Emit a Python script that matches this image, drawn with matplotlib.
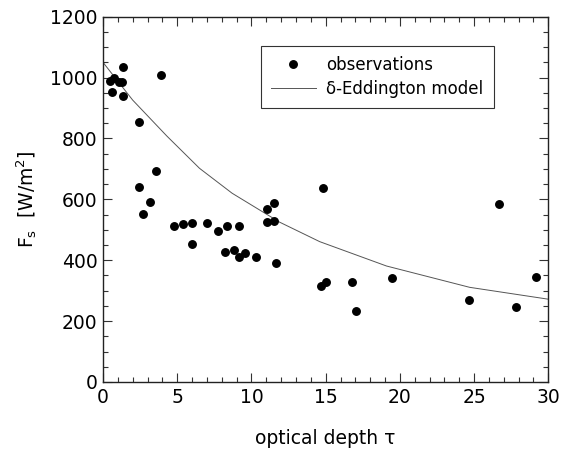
import matplotlib
matplotlib.use("Agg")
import matplotlib.pyplot as plt
from matplotlib.ticker import MultipleLocator

# observations
tau_obs = [0.47, 0.76, 1.08, 1.26, 0.58, 1.35, 1.35, 3.9, 2.4, 3.6, 2.4, 3.14, 2.69,
           4.77, 5.4, 6.0, 6.0, 7.0, 7.78, 8.36, 9.15, 8.2, 8.83, 9.15, 9.57, 10.3,
           11.07, 11.5, 11.07, 11.5, 11.68, 14.82, 14.66, 15.0, 16.77, 17.06, 19.48,
           24.68, 26.65, 27.82, 29.16]
fs_obs = [990, 997, 986, 986, 952, 1034, 939, 1009, 853, 694, 639, 592, 553,
          514, 520, 523, 453, 523, 497, 514, 514, 426, 432, 411, 424, 410,
          569, 588, 526, 528, 390, 636, 314, 329, 327, 234, 341,
          270, 585, 246, 344]

# delta-Eddington model
tau_model = [0, 2, 4.3, 6.5, 8.7, 11.9, 14.6, 19.1, 24.7, 30]
fs_model = [1050, 926, 808, 702, 620, 525, 461, 381, 311, 272]

plt.rcParams['font.family'] = ['DejaVu Sans']

fig = plt.figure(figsize=(5.61, 4.51), dpi=100)
ax = fig.add_axes([0.1836, 0.153, 0.7938, 0.81])

ax.plot(tau_model, fs_model, color='#555555', lw=0.7, label='δ-Eddington model', zorder=2)
ax.plot(tau_obs, fs_obs, 'o', color='black', markersize=5.4, linestyle='none',
        label='observations', zorder=3)

ax.set_xlim(0, 30)
ax.set_ylim(0, 1200)
ax.xaxis.set_major_locator(MultipleLocator(5))
ax.xaxis.set_minor_locator(MultipleLocator(1))
ax.yaxis.set_major_locator(MultipleLocator(200))
ax.yaxis.set_minor_locator(MultipleLocator(50))
ax.tick_params(which='both', direction='in', top=True, right=True, labelsize=13.5,
               width=0.8, color='#333333')
ax.tick_params(which='major', length=6.5, pad=4)
ax.tick_params(which='minor', length=3.5)
for s in ax.spines.values():
    s.set_linewidth(1.0)
    s.set_color('#222222')

ax.set_xlabel('optical depth τ', fontsize=13.5, labelpad=16)
ax.set_ylabel(r'F$_{\rm s}$  [W/m$^2$]', fontsize=13.5, labelpad=8)

handles, labels = ax.get_legend_handles_labels()
leg = ax.legend(handles[::-1], labels[::-1], loc='upper left',
                bbox_to_anchor=(0.354, 0.92), borderaxespad=0, frameon=True,
                fancybox=False, edgecolor='black', fontsize=12, handlelength=2.7,
                borderpad=0.6, labelspacing=0.35, handletextpad=0.65)
leg.get_frame().set_linewidth(0.8)

fig.savefig('out.png', dpi=100)
